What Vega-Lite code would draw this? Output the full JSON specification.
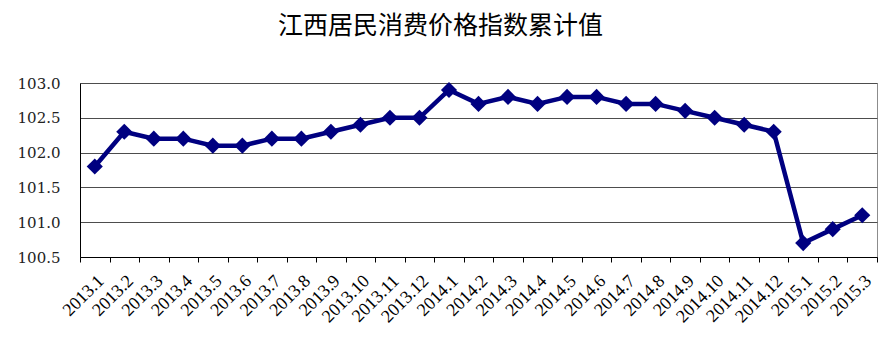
{
  "$schema": "https://vega.github.io/schema/vega-lite/v6.json",
  "width": 797,
  "height": 174,
  "autosize": {"type": "none"},
  "padding": {"left": 80, "top": 83, "right": 16, "bottom": 85},
  "background": "white",
  "title": {
    "text": "江西居民消费价格指数累计值",
    "font": "Noto Sans CJK SC",
    "fontSize": 25,
    "fontWeight": "normal",
    "color": "#000000",
    "anchor": "middle",
    "dx": -38,
    "offset": 37
  },
  "config": {
    "view": {"stroke": "#8c8c8c", "strokeWidth": 1}
  },
  "data": {
    "values": [
      {"period": "2013.1", "value": 101.8},
      {"period": "2013.2", "value": 102.3},
      {"period": "2013.3", "value": 102.2},
      {"period": "2013.4", "value": 102.2},
      {"period": "2013.5", "value": 102.1},
      {"period": "2013.6", "value": 102.1},
      {"period": "2013.7", "value": 102.2},
      {"period": "2013.8", "value": 102.2},
      {"period": "2013.9", "value": 102.3},
      {"period": "2013.10", "value": 102.4},
      {"period": "2013.11", "value": 102.5},
      {"period": "2013.12", "value": 102.5},
      {"period": "2014.1", "value": 102.9},
      {"period": "2014.2", "value": 102.7},
      {"period": "2014.3", "value": 102.8},
      {"period": "2014.4", "value": 102.7},
      {"period": "2014.5", "value": 102.8},
      {"period": "2014.6", "value": 102.8},
      {"period": "2014.7", "value": 102.7},
      {"period": "2014.8", "value": 102.7},
      {"period": "2014.9", "value": 102.6},
      {"period": "2014.10", "value": 102.5},
      {"period": "2014.11", "value": 102.4},
      {"period": "2014.12", "value": 102.3},
      {"period": "2015.1", "value": 100.7},
      {"period": "2015.2", "value": 100.9},
      {"period": "2015.3", "value": 101.1}
    ]
  },
  "encoding": {
    "x": {
      "field": "period",
      "type": "ordinal",
      "sort": null,
      "bandPosition": 0.5,
      "scale": {"type": "band", "paddingInner": 0, "paddingOuter": 0},
      "axis": {
        "title": null,
        "labelAngle": -45,
        "labelAlign": "right",
        "labelBaseline": "middle",
        "labelFont": "Liberation Serif",
        "labelFontSize": 18,
        "labelColor": "#000000",
        "labelPadding": 16,
        "labelOffset": 6,
        "tickBand": "extent",
        "ticks": true,
        "tickSize": 5,
        "tickColor": "#000000",
        "domainColor": "#000000",
        "grid": false,
        "labelOverlap": false
      }
    },
    "y": {
      "field": "value",
      "type": "quantitative",
      "scale": {"domain": [100.5, 103.0], "zero": false, "nice": false},
      "axis": {
        "title": null,
        "values": [100.5, 101.0, 101.5, 102.0, 102.5, 103.0],
        "format": ".1f",
        "labelFont": "DejaVu Serif",
        "labelFontSize": 15,
        "labelColor": "#222222",
        "labelPadding": 20,
        "ticks": false,
        "domainColor": "#000000",
        "grid": true,
        "gridColor": "#4d4d4d",
        "gridWidth": 1
      }
    }
  },
  "layer": [
    {
      "mark": {"type": "line", "color": "#000080", "strokeWidth": 4.5}
    },
    {
      "mark": {"type": "point", "shape": "diamond", "filled": true, "color": "#000080", "size": 260, "opacity": 1}
    }
  ]
}
